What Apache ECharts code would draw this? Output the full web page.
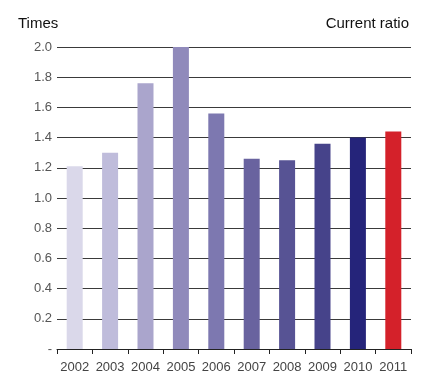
<!DOCTYPE html>
<html>
<head>
<meta charset="utf-8">
<style>
  html, body { margin: 0; padding: 0; background: #fff; }
  #chart { width: 424px; height: 375px; }
</style>
<script src="https://cdn.jsdelivr.net/npm/echarts@6/dist/echarts.min.js"></script>
</head>
<body>
<div id="chart"></div>
<script>
// Current ratio by year (times)
const years = ['2002', '2003', '2004', '2005', '2006', '2007', '2008', '2009', '2010', '2011'];
const ratios = [1.21, 1.30, 1.76, 2.00, 1.56, 1.26, 1.25, 1.36, 1.40, 1.44];
const barColors = ['#dad8ea', '#bfbcdb', '#aaa5cc', '#908abb', '#7d78b0', '#69639f', '#575394', '#46438a', '#25247a', '#d4212a'];
const yTicks = [0, 0.2, 0.4, 0.6, 0.8, 1.0, 1.2, 1.4, 1.6, 1.8, 2.0];

const chart = echarts.init(document.getElementById('chart'), null, { renderer: 'canvas' });

const font = '"Liberation Sans", Arial, sans-serif';

chart.setOption({
  animation: false,
  title: [
    { text: 'Times', left: 13, top: 11, textStyle: { fontFamily: font, fontSize: 15, fontWeight: 'normal', color: '#111' } },
    { text: 'Current ratio', right: 10, top: 11, textStyle: { fontFamily: font, fontSize: 15, fontWeight: 'normal', color: '#111' } }
  ],
  grid: { left: 57, right: 13, top: 47, bottom: 26, containLabel: false },
  xAxis: {
    type: 'category',
    data: years,
    axisLine: { show: true, lineStyle: { color: '#222', width: 1 } },
    axisTick: { show: true, alignWithLabel: false, length: 5, lineStyle: { color: '#222' } },
    axisLabel: { interval: 0, fontFamily: font, fontSize: 13, color: '#444', margin: 12 },
    splitLine: { show: false }
  },
  yAxis: {
    type: 'value',
    min: yTicks[0],
    max: yTicks[yTicks.length - 1],
    interval: 0.2,
    axisLine: { show: false },
    axisTick: { show: false },
    axisLabel: {
      fontFamily: font, fontSize: 13, color: '#555', margin: 5,
      formatter: v => (Math.abs(v) < 1e-9 ? '-' : v.toFixed(1))
    },
    splitLine: { show: true, lineStyle: { color: '#3a3a3a', width: 1 } }
  },
  series: [{
    type: 'bar',
    barWidth: 16,
    z: 3,
    data: ratios.map((v, i) => ({ value: v, itemStyle: { color: barColors[i] } }))
  }]
});
</script>
</body>
</html>
